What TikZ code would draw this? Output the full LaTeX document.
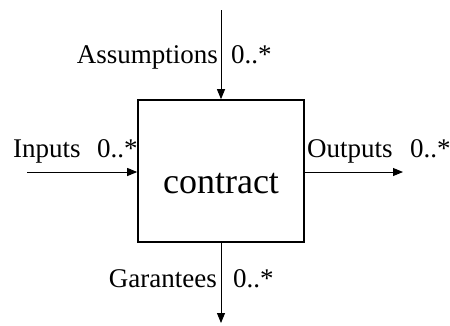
\documentclass[tikz,border=0pt]{standalone}
\usepackage{fontspec}
\setmainfont{Liberation Serif}
\usetikzlibrary{arrows.meta}

\begin{document}
\begin{tikzpicture}[x=1pt, y=-1pt, every node/.style={inner sep=0pt, font=\fontsize{27}{30}\selectfont},
  box/.style={draw, line width=1.6pt, minimum width=166pt, minimum height=142pt},
  flow/.style={line width=0.9pt, -{Triangle[length=10pt,width=8pt]}}]
  \useasboundingbox (0,0) rectangle (450,325);
  % the block
  \node[box] (contract) at (221,171) {};
  \node[anchor=base, font=\fontsize{36}{40}\selectfont] (name) at (221,193) {contract};
  % free ends of the arrows
  \coordinate (assume) at (221,10);
  \coordinate (garant) at (221,323);
  \coordinate (in) at (27,172);
  \coordinate (out) at (403,172);
  \draw[flow] (assume) -- (assume |- contract.north);
  \draw[flow] (contract.south) -- (garant);
  \draw[flow] (in) -- (in -| contract.west);
  \draw[flow] (out -| contract.east) -- (out);
  % labels
  \node[anchor=base east] (assumeL) at (218,63) {Assumptions};
  \node[anchor=base west] (assumeM) at (231,63) {0..*};
  \node[anchor=base east] (garantL) at (217,287) {Garantees};
  \node[anchor=base west] (garantM) at (233,287) {0..*};
  \node[anchor=base west] (inL) at (13,157) {Inputs};
  \node[anchor=base west] (inM) at (97,157) {0..*};
  \node[anchor=base west] (outL) at (307,157) {Outputs};
  \node[anchor=base west] (outM) at (410,157) {0..*};
\end{tikzpicture}
\end{document}
